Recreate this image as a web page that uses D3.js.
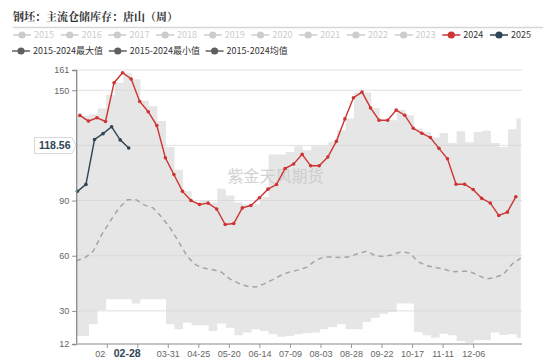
<!DOCTYPE html>
<html><head><meta charset="utf-8">
<script src="https://cdn.jsdelivr.net/npm/d3@7"></script>
<style>body{margin:0;background:#fff}svg{display:block}</style>
</head><body><svg id="c" width="550" height="361"></svg>
<script>
// ---------------- data ----------------
const title = "钢坯：主流仓储库存：唐山（周）";
const watermark = "紫金天风期货";
const legendYears = ["2015","2016","2017","2018","2019","2020","2021","2022","2023","2024","2025"];
const legendStats = ["2015-2024最大值","2015-2024最小值","2015-2024均值"];
const yTicks = [12,30,60,90,120,150,161];
const yHiddenTicks = [120];
const xTickLabels = ["02-09","03-06","03-31","04-25","05-20","06-14","07-09","08-03","08-28","09-22","10-17","11-11","12-06"];
const xHiddenLabels = ["03-06"];
const axisStart = "01-15";
const start2024 = "01-18";
const start2025 = "01-16";
const startStats = "01-15";
const currentLabel = "02-28";
const lastValue = 118.56;

const v2024 = [136.3,133.2,135,133,154.1,159.5,156.1,143.9,138.3,130.8,113.3,104.2,95,90,87.9,88.6,85.4,77,77.5,86,87.3,91.5,96.2,98.7,107.4,109.9,115.1,108.9,108.9,113.7,122.2,134.4,145.9,149,140.4,133.7,133.7,139.2,136.4,129.3,126.6,124.3,118.4,112.7,98.9,98.9,96,91.2,88.7,81.9,83.7,92.1];
const v2025 = [95,98.8,123.2,126.4,130.1,123,118.56];
const vMax = [136.4,136,137,140,147.4,154,159.2,156,144.3,141.3,133.2,119.1,106.8,95,89,90,89,96.4,92.8,89,88,88,92,115.1,115.1,116.4,119.5,117.3,119.5,119.5,122,128.2,134.6,148.8,148.8,140.4,133.7,133.7,139.2,136.4,129.2,127.3,124.3,126.8,121.3,127.7,121.7,127.3,128,121.3,119.1,128.8,134.6];
const vMin = [16.4,16.4,22.7,30.5,36.4,36.4,36.4,34,36.4,36.4,36.4,22.7,20,23.6,22.2,22.2,19.1,23.1,20.9,16.7,18.2,20,19.1,17.3,16,16.4,17.3,17.8,18.2,20,21.3,22.7,20,20,24,26.3,28.5,29.6,34,34,18.5,16.7,15.4,17.6,16.7,13.6,12.7,14,14,18.2,16.9,17.3,15.4];
const vAvg = [57.3,58.8,62.5,71.6,79,86,90.5,90.5,87.5,86,81,75,67.5,59.5,55,53.2,52.4,51,47.3,45,43.4,43,44.7,47,49.5,51.2,52.3,53.8,57.5,59.3,59.3,59,59.5,61.3,62.5,60,59.6,60.5,62.2,61.5,56.7,54.6,53.6,52.8,51.2,51.6,51.5,49.3,47.4,48.2,50,55.5,58.7];

// ---------------- helpers ----------------
const C_RED = "#cd3434", C_NAVY = "#2f4554", C_GREY_LEG = "#5f5f5f", C_INACT = "#cccccc";
const toDate = md => {
  const [m, d] = md.split("-").map(Number);
  const axis0 = axisStart.split("-").map(Number);
  const yr = (m < axis0[0] || (m === axis0[0] && d < axis0[1])) ? 2026 : 2025;
  return new Date(yr, m - 1, d);
};
const weekly = (startMD, vals) => vals.map((v, i) => ({date: d3.timeDay.offset(toDate(startMD), 7 * i), v}));

const s2024 = weekly(start2024, v2024);
const s2025 = weekly(start2025, v2025);
const sAvg = weekly(startStats, vAvg);
const sBand = vMax.map((mx, i) => ({date: d3.timeDay.offset(toDate(startStats), 7 * i), max: mx, min: vMin[i]}));

// ---------------- layout ----------------
const svg = d3.select("#c");
const L = 76.2, R = 522, T = 70, B = 344;
const x = d3.scaleTime().domain([toDate(axisStart), d3.timeYear.offset(toDate(axisStart), 1)]).range([L, R]);
const y = d3.scaleLinear().domain([12, 161]).range([B, T]);
const FONT = "'Liberation Sans','Noto Sans CJK SC',sans-serif";
const CJK = "'Noto Sans CJK SC','Liberation Sans',sans-serif";

// title
svg.append("text").attr("x", 13).attr("y", 20.5).text(title)
  .attr("font-family", "'Noto Serif CJK SC','Noto Sans CJK SC',serif").attr("font-weight", "bold")
  .attr("font-size", "11px").attr("fill", "#333");
svg.append("line").attr("x1", 13).attr("x2", 543).attr("y1", 27.5).attr("y2", 27.5)
  .attr("stroke", "#d6d6d6").attr("stroke-width", 1.5);

// legend
function legendItem(tx, cy, label, color, textColor) {
  const g = svg.append("g");
  g.append("line").attr("x1", tx - 21).attr("x2", tx - 3).attr("y1", cy).attr("y2", cy)
    .attr("stroke", color).attr("stroke-width", 1.5);
  g.append("circle").attr("cx", tx - 12).attr("cy", cy).attr("r", 3.6).attr("fill", color);
  g.append("text").attr("x", tx).attr("y", cy).attr("dy", "0.35em").text(label)
    .attr("font-family", CJK).attr("font-size", "9px").attr("fill", textColor);
}
legendYears.forEach((yr, i) => {
  const col = yr === "2024" ? C_RED : yr === "2025" ? C_NAVY : C_INACT;
  const tcol = (yr === "2024" || yr === "2025") ? "#333" : C_INACT;
  legendItem(34 + 47.7 * i, 35, yr, col, tcol);
});
legendStats.forEach((lab, i) => legendItem(33 + 96.8 * i, 51, lab, C_GREY_LEG, "#333"));

// band
svg.append("path").datum(sBand)
  .attr("d", d3.area().x(d => x(d.date)).y0(d => y(d.min)).y1(d => y(d.max)).curve(d3.curveStep))
  .attr("fill", "#e6e6e6");

// grid
svg.append("g").selectAll("line").data(yTicks.filter(t => t !== 12)).join("line")
  .attr("x1", L).attr("x2", R).attr("y1", d => y(d)).attr("y2", d => y(d))
  .attr("stroke", "#d4d4d4").attr("stroke-opacity", 0.7).attr("stroke-width", 1);

// watermark
svg.append("text").attr("x", 275.5).attr("y", 176).attr("text-anchor", "middle").attr("dy", "0.35em")
  .text(watermark).attr("font-family", CJK).attr("font-size", "16px").attr("fill", "#c9c9c9").attr("opacity", 0.85);

// avg dashed
svg.append("path").datum(sAvg)
  .attr("d", d3.line().x(d => x(d.date)).y(d => y(d.v)))
  .attr("fill", "none").attr("stroke", "#a5a5a5").attr("stroke-width", 1.5).attr("stroke-dasharray", "5,4");

// series
function drawSeries(data, color) {
  svg.append("path").datum(data)
    .attr("d", d3.line().x(d => x(d.date)).y(d => y(d.v)))
    .attr("fill", "none").attr("stroke", color).attr("stroke-width", 1.4);
  svg.append("g").selectAll("circle").data(data).join("circle")
    .attr("cx", d => x(d.date)).attr("cy", d => y(d.v)).attr("r", 1.8).attr("fill", color);
}
drawSeries(s2024, C_RED);
drawSeries(s2025, C_NAVY);

// y axis
const yAxis = d3.axisLeft(y).tickValues(yTicks).tickSize(4).tickPadding(3)
  .tickFormat(d => yHiddenTicks.includes(d) ? "" : d);
const gy = svg.append("g").attr("transform", `translate(${L},0)`).call(yAxis);
gy.select(".domain").attr("stroke", "#8a8a8a").attr("stroke-width", 1.3);
gy.selectAll(".tick line").attr("stroke", "#8a8a8a");
gy.selectAll(".tick text").attr("font-family", FONT).attr("font-size", "9px").attr("fill", "#666");

// x axis
const lastPt = s2025[s2025.length - 1];
const px = x(lastPt.date) - 1.5;
svg.append("defs").append("clipPath").attr("id", "xclip").append("rect")
  .attr("x", 0).attr("y", 0).attr("width", px - 21).attr("height", 361);
const xTickDates = xTickLabels.map(toDate);
const xAxis = d3.axisBottom(x).tickValues(xTickDates).tickSize(4).tickPadding(3)
  .tickFormat((d, i) => (i === 0 || xHiddenLabels.includes(xTickLabels[i])) ? "" : xTickLabels[i]);
const gx = svg.append("g").attr("transform", `translate(0,${B})`).call(xAxis);
gx.select(".domain").attr("stroke", "#b0b0b0").attr("stroke-width", 1.5).attr("d", `M${L},0H${R}`);
gx.selectAll(".tick line").attr("stroke", "#999");
gx.selectAll(".tick text").attr("font-family", FONT).attr("font-size", "9px").attr("fill", "#666");
// first label partly hidden under the pointer label, as in the reference
svg.append("g").attr("clip-path", "url(#xclip)")
  .append("text").attr("x", x(xTickDates[0])).attr("y", B + 7).attr("dy", "0.71em").attr("text-anchor", "middle")
  .text(xTickLabels[0]).attr("font-family", FONT).attr("font-size", "9px").attr("fill", "#666");

// x pointer label
svg.append("text").attr("x", px).attr("y", B + 13).attr("text-anchor", "middle").text(currentLabel)
  .attr("font-family", FONT).attr("font-weight", "bold").attr("font-size", "10.5px").attr("fill", C_NAVY);

// y pointer label
const yc = y(lastValue) - 2.5;
const bx0 = 34.5, bx1 = 72, tip = 76;
svg.append("path")
  .attr("d", `M${bx0},${yc - 8}H${bx1}L${tip},${yc}L${bx1},${yc + 8}H${bx0}Z`)
  .attr("fill", "#fff").attr("stroke", "#d8d8d8").attr("stroke-width", 1);
svg.append("text").attr("x", 70.5).attr("y", yc).attr("dy", "0.35em").attr("text-anchor", "end")
  .text(lastValue.toFixed(2)).attr("font-family", FONT).attr("font-weight", "bold")
  .attr("font-size", "10.5px").attr("fill", C_NAVY);
</script>
</body></html>
